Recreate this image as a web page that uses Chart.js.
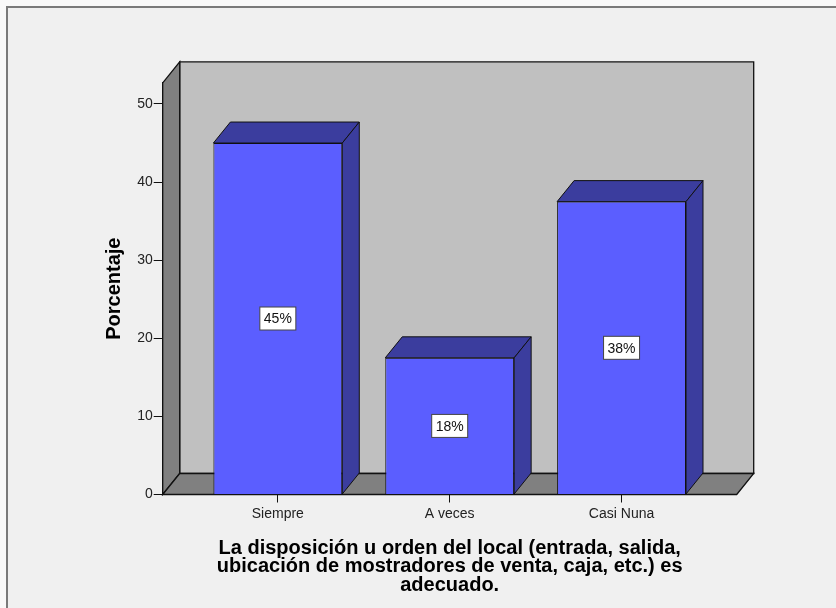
<!DOCTYPE html>
<html lang="es">
<head>
<meta charset="utf-8">
<title>Disposición del local</title>
<script src="https://cdn.jsdelivr.net/npm/chart.js@4.4.1/dist/chart.umd.min.js"></script>
<style>
  html, body { margin: 0; padding: 0; background: #f9f9f9; }
  canvas { display: block; }
</style>
</head>
<body>
<canvas id="grafico" width="836" height="608"></canvas>
<script>
// ===== Datos =====
const categorias = ["Siempre", "A veces", "Casi Nuna"];
const porcentajes = [45, 17.5, 37.5];
const tituloEjeX = [
  "La disposición u orden del local (entrada, salida,",
  "ubicación de mostradores de venta, caja, etc.) es",
  "adecuado."
];
const tituloEjeY = "Porcentaje";

// ===== Estilo =====
const FUENTE = '"Liberation Sans", Arial, sans-serif';
const PROF_X = 17, PROF_Y = -21;   // profundidad del efecto 3D
const colorFrente = '#5b5eff';
const colorCara = '#3b3d9e';
const colorPared = '#c0c0c0';
const colorSuelo = '#808080';

function formatearPorcentaje(v) { return Math.round(v) + "%"; }

function poligono(ctx, puntos, relleno) {
  ctx.beginPath();
  puntos.forEach(([x, y], i) => i ? ctx.lineTo(x, y) : ctx.moveTo(x, y));
  ctx.closePath();
  ctx.fillStyle = relleno;
  ctx.fill();
  ctx.stroke();
}

// ===== Plugin: paredes, caras 3D y etiquetas =====
const efecto3D = {
  id: 'efecto3D',
  beforeDraw(chart) {
    const { ctx, chartArea: a } = chart;
    const dx = PROF_X, dy = PROF_Y;
    ctx.save();
    ctx.fillStyle = '#f9f9f9';
    ctx.fillRect(0, 0, chart.width, chart.height);
    ctx.fillStyle = '#f0f0f0';
    ctx.fillRect(7, 7, chart.width, chart.height);
    ctx.strokeStyle = '#7a7a7a';
    ctx.lineWidth = 2;
    ctx.strokeRect(7, 7, chart.width, chart.height);

    ctx.strokeStyle = '#111';
    ctx.lineWidth = 1.3;
    // pared del fondo
    poligono(ctx, [[a.left + dx, a.top + dy], [a.right + dx, a.top + dy], [a.right + dx, a.bottom + dy], [a.left + dx, a.bottom + dy]], colorPared);
    // pared izquierda
    poligono(ctx, [[a.left, a.bottom], [a.left, a.top], [a.left + dx, a.top + dy], [a.left + dx, a.bottom + dy]], colorSuelo);
    // suelo
    poligono(ctx, [[a.left, a.bottom], [a.left + dx, a.bottom + dy], [a.right + dx, a.bottom + dy], [a.right, a.bottom]], colorSuelo);
    ctx.restore();
  },
  afterDatasetsDraw(chart) {
    const { ctx } = chart;
    const dx = PROF_X, dy = PROF_Y;
    const meta = chart.getDatasetMeta(0);
    ctx.save();
    meta.data.forEach((barra, i) => {
      const { x, y, base, width } = barra.getProps(['x', 'y', 'base', 'width'], true);
      const x0 = x - width / 2, x1 = x + width / 2;
      ctx.strokeStyle = '#111';
      ctx.lineWidth = 1;
      poligono(ctx, [[x0, y], [x0 + dx, y + dy], [x1 + dx, y + dy], [x1, y]], colorCara);
      poligono(ctx, [[x1, y], [x1 + dx, y + dy], [x1 + dx, base + dy], [x1, base]], colorCara);

      // etiqueta de valor
      const texto = formatearPorcentaje(porcentajes[i]);
      ctx.font = `14px ${FUENTE}`;
      const w = Math.round(ctx.measureText(texto).width + 8), h = 23;
      const cy = (y + base) / 2;
      ctx.fillStyle = '#fff';
      ctx.fillRect(x - w / 2, cy - h / 2, w, h);
      ctx.strokeStyle = '#444';
      ctx.strokeRect(x - w / 2, cy - h / 2, w, h);
      ctx.fillStyle = '#111';
      ctx.textAlign = 'center';
      ctx.textBaseline = 'middle';
      ctx.fillText(texto, x, cy + 1);
    });
    ctx.restore();
  }
};

// ===== Gráfico =====
new Chart(document.getElementById('grafico'), {
  type: 'bar',
  data: {
    datasets: [{
      data: porcentajes.map((v, i) => ({ x: i + 1, y: v })),
      backgroundColor: colorFrente,
      borderColor: '#111',
      borderWidth: 1,
      barPercentage: 0.75,
      categoryPercentage: 1
    }]
  },
  options: {
    responsive: false,
    animation: false,
    layout: { padding: { top: 82.9, right: 99.3, left: 0, bottom: 0 } },
    plugins: { legend: { display: false }, tooltip: { enabled: false } },
    scales: {
      x: {
        type: 'linear',
        min: 0.33,
        max: 3.67,
        offset: false,
        grid: { offset: false, drawOnChartArea: false, color: '#111', tickLength: 8 },
        border: { display: true, color: '#111' },
        afterBuildTicks: s => { s.ticks = categorias.map((c, i) => ({ value: i + 1 })); },
        ticks: {
          autoSkip: false, maxRotation: 0,
          padding: 3, color: '#222',
          font: { family: FUENTE, size: 14 },
          callback: v => categorias[v - 1] ?? ''
        },
        title: {
          display: true, text: tituloEjeX, color: '#000',
          font: { family: FUENTE, size: 20, weight: 'bold', lineHeight: 0.925 },
          padding: { top: 0, bottom: 13.75 }
        },
        afterFit: s => { s.height = 113.5; }
      },
      y: {
        min: 0,
        max: 52.7,
        grid: { drawOnChartArea: false, color: '#111', tickLength: 9 },
        border: { display: true, color: '#111' },
        ticks: {
          stepSize: 10, includeBounds: false, padding: 1, color: '#222',
          font: { family: FUENTE, size: 14 }
        },
        title: {
          display: true, text: tituloEjeY, color: '#000',
          font: { family: FUENTE, size: 20, weight: 'bold' },
          padding: { top: 102, bottom: 0 }
        },
        afterFit: s => { s.width = 162.7; }
      }
    }
  },
  plugins: [efecto3D]
});
</script>
</body>
</html>
